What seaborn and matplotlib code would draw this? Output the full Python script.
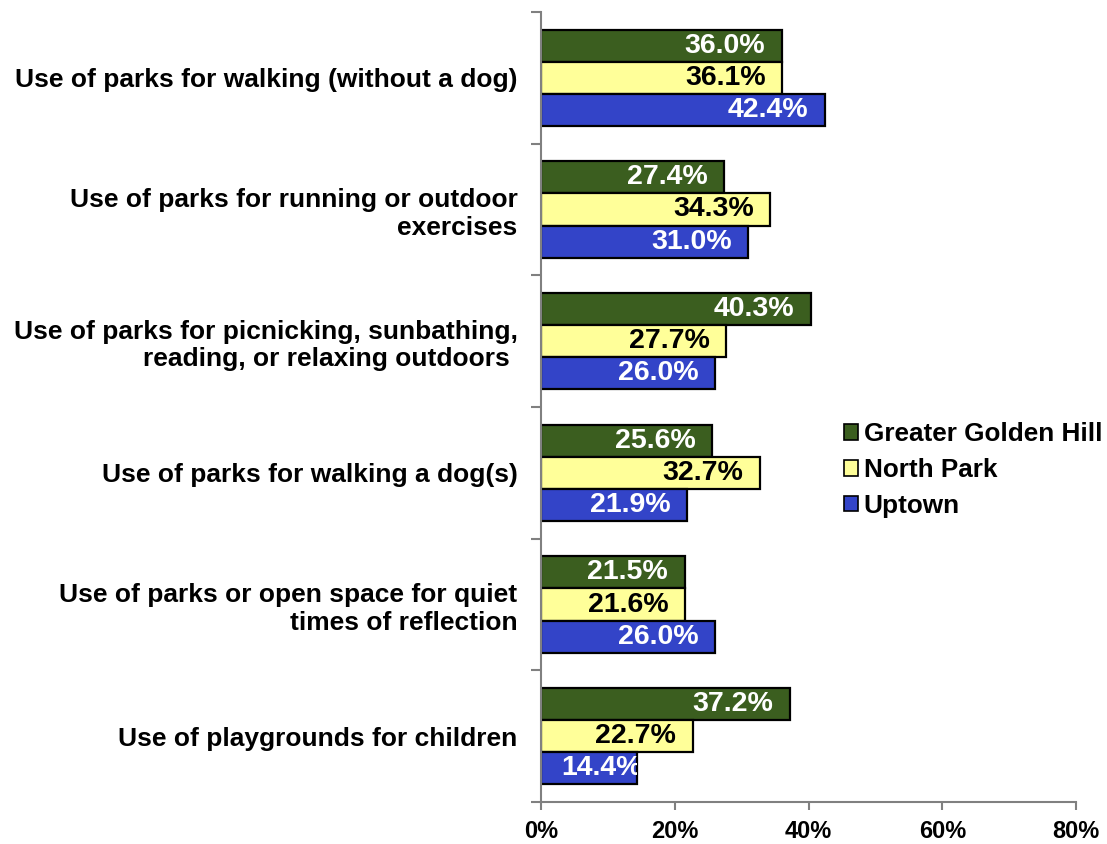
import pandas as pd
import matplotlib.pyplot as plt
import seaborn as sns
from matplotlib.patches import Patch
from matplotlib.ticker import FixedLocator

# === Data ===
categories = [
    "Use of parks for walking (without a dog)",
    "Use of parks for running or outdoor\nexercises",
    "Use of parks for picnicking, sunbathing,\nreading, or relaxing outdoors ",
    "Use of parks for walking a dog(s)",
    "Use of parks or open space for quiet\ntimes of reflection",
    "Use of playgrounds for children",
]
areas = ["Greater Golden Hill", "North Park", "Uptown"]
golden_hill = [36.0, 27.4, 40.3, 25.6, 21.5, 37.2]
north_park = [36.1, 34.3, 27.7, 32.7, 21.6, 22.7]
uptown = [42.4, 31.0, 26.0, 21.9, 26.0, 14.4]
x_ticks = [0, 20, 40, 60, 80]

colors = {"Greater Golden Hill": "#3B5E1F", "North Park": "#FFFF99", "Uptown": "#3344C8"}
label_colors = {"Greater Golden Hill": "white", "North Park": "black", "Uptown": "white"}

rows = []
for area, vals in zip(areas, [golden_hill, north_park, uptown]):
    for cat, v in zip(categories, vals):
        rows.append({"category": cat, "area": area, "pct": v})
df = pd.DataFrame(rows)

# === Plot ===
sns.set_theme(style="white")
plt.rcParams["font.family"] = ["Liberation Sans", "DejaVu Sans"]
plt.rcParams["font.weight"] = "bold"
plt.rcParams["text.color"] = "black"

fig = plt.figure(figsize=(11.07, 8.44), dpi=100)
ax = fig.add_axes([541 / 1107, 1 - 802 / 844, (1076 - 541) / 1107, (802 - 12) / 844])

sns.barplot(data=df, y="category", x="pct", hue="area", order=categories,
            hue_order=areas, palette=colors, saturation=1, orient="h", width=0.73,
            edgecolor="black", linewidth=1.6, ax=ax, legend=False)

# value labels inside the bar ends
for container, area in zip(ax.containers, areas):
    anns = ax.bar_label(container, fmt="%.1f%%", label_type="edge", padding=-12,
                        color=label_colors[area], fontsize=20.5, fontweight="bold")
    for a, bar in zip(anns, container):
        a.set_ha("right")
        if bar.get_width() < 16:
            # short bar: label pushed to the end and cut off by the bar
            a.xyann = (3, 0)
            a.set_clip_path(bar)

ax.set_xlim(0, 80)
ax.set_ylim(5.5, -0.5)
ax.set_xticks(x_ticks)
ax.set_xticklabels([f"{t}%" for t in x_ticks])
ax.set_xlabel("")
ax.set_ylabel("")
for lbl in ax.get_yticklabels():
    lbl.set_fontsize(19)
    lbl.set_fontweight("bold")
    lbl.set_ha("right")

# boundaries between groups as outward minor ticks
ax.yaxis.set_minor_locator(FixedLocator([i - 0.5 for i in range(len(categories) + 1)]))
ax.tick_params(axis="y", which="major", length=0, pad=17, labelcolor="black")
ax.tick_params(axis="y", which="minor", left=True, length=7, width=1.5, color="#808080")
ax.tick_params(axis="x", which="major", bottom=True, length=6, width=1.5, color="#808080",
               labelcolor="black", labelsize=17, pad=7)
for lbl in ax.get_xticklabels():
    lbl.set_fontweight("bold")

for s in ["top", "right"]:
    ax.spines[s].set_visible(False)
for s in ["left", "bottom"]:
    ax.spines[s].set_color("#808080")
    ax.spines[s].set_linewidth(1.5)

handles = [Patch(facecolor=colors[a], edgecolor="black", linewidth=1.2, label=a) for a in areas]
fig.legend(handles=handles, loc="center left", bbox_to_anchor=(844 / 1107, 1 - 470 / 844),
           frameon=False, prop={"size": 18.8, "weight": "bold"}, labelcolor="black",
           handlelength=0.55, handleheight=0.55, handletextpad=0.2, labelspacing=0.45,
           borderpad=0, borderaxespad=0)

fig.savefig("out.png", dpi=100)
